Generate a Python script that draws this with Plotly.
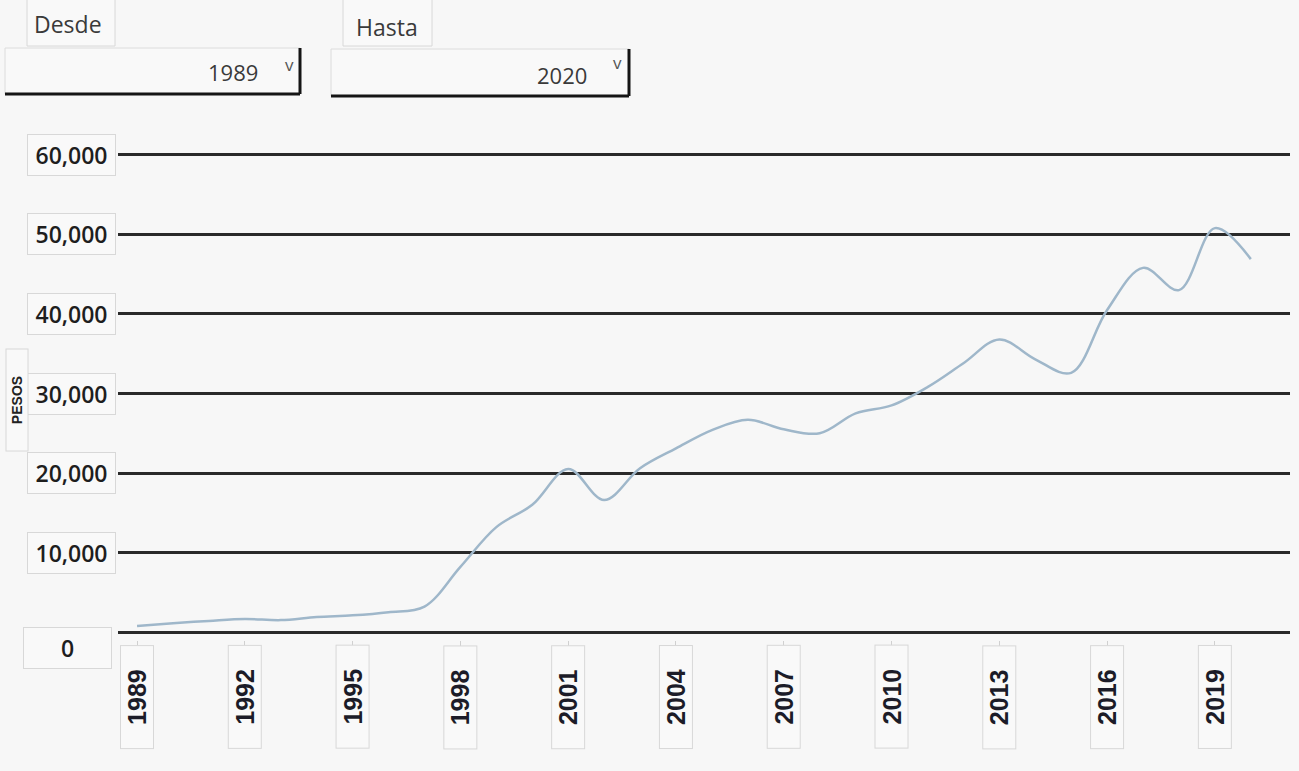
import plotly.graph_objects as go

# ---- data ----
years = list(range(1989, 2021))
pesos = [750, 1100, 1400, 1650, 1500, 1900, 2100, 2500, 3200, 8200,
         13200, 16000, 20500, 16600, 20600, 23100, 25400, 26700, 25500, 25000,
         27500, 28500, 30800, 33800, 36800, 34300, 32600, 40500, 45800, 43000,
         50800, 46900]
x_ticks = list(range(1989, 2020, 3))
y_ticks = [0, 10000, 20000, 30000, 40000, 50000, 60000]
y_labels = ["0", "10,000", "20,000", "30,000", "40,000", "50,000", "60,000"]
desde, hasta = "1989", "2020"
y_title = "PESOS"

W, H = 1299, 771
L, R, T, B = 118, 9, 147, 131
PW, PH = W - L - R, H - T - B

def fx(px):
    return (px - L) / PW

def fy(py):
    return (H - B - py) / PH

BG = "#f7f7f7"
BOXFILL = "#f9f9f9"
BOXLINE = "#d8d8d8"

fig = go.Figure()
fig.add_trace(go.Scatter(
    x=years, y=pesos, mode="lines",
    line=dict(color="#9fb7ca", width=2.5, shape="spline", smoothing=1.0),
    hoverinfo="x+y", showlegend=False))

annotations = []
# x tick labels in boxes
for yr in x_ticks:
    annotations.append(dict(
        x=yr, xref="x", y=0, yref="y", yanchor="top", xanchor="center",
        yshift=-13, text=str(yr), textangle=-90, showarrow=False,
        font=dict(family="Liberation Sans, Arial", size=25, color="#1c1c28", weight="bold"),
        width=98, height=28, borderpad=2, bordercolor=BOXLINE, borderwidth=1,
        bgcolor=BOXFILL))
# y tick labels in boxes
for v, lab in zip(y_ticks, y_labels):
    is_zero = v == 0
    annotations.append(dict(
        x=0, xref="paper", xanchor="right", xshift=-2 if not is_zero else -6,
        y=v, yref="y", yanchor="middle", yshift=-16 if is_zero else 0,
        text=lab, showarrow=False,
        font=dict(family="Open Sans, Noto Sans", size=23, color="#1e1e1e", weight=600),
        width=83, height=36, borderpad=2, bordercolor=BOXLINE, borderwidth=1,
        bgcolor=BOXFILL))
# y axis title
annotations.append(dict(
    x=fx(16.5), xref="paper", xanchor="center", y=fy(400), yref="paper",
    yanchor="middle", text=y_title, textangle=-90, showarrow=False,
    font=dict(family="Liberation Sans, Arial", size=14, color="#222", weight="bold"),
    width=97, height=17, borderpad=2, bordercolor=BOXLINE, borderwidth=1,
    bgcolor=BOXFILL))

shapes = []
# Desde / Hasta label boxes
for x0, x1 in [(27, 115), (343, 432)]:
    shapes.append(dict(type="rect", xref="paper", yref="paper",
                       x0=fx(x0), x1=fx(x1), y0=fy(46), y1=fy(-2),
                       line=dict(color=BOXLINE, width=1), fillcolor=BOXFILL, layer="below"))
# dropdowns
for x0, x1, ytop, ybot in [(5, 300, 48, 94), (331, 629, 49, 96)]:
    shapes.append(dict(type="rect", xref="paper", yref="paper",
                       x0=fx(x0), x1=fx(x1), y0=fy(ybot), y1=fy(ytop),
                       line=dict(color="#dcdcdc", width=1), fillcolor=BOXFILL, layer="below"))
    shapes.append(dict(type="line", xref="paper", yref="paper",
                       x0=fx(x0), x1=fx(x1), y0=fy(ybot), y1=fy(ybot),
                       line=dict(color="#151515", width=3)))
    shapes.append(dict(type="line", xref="paper", yref="paper",
                       x0=fx(x1), x1=fx(x1), y0=fy(ybot), y1=fy(ytop),
                       line=dict(color="#151515", width=3)))

ctrl_font = dict(family="Open Sans, Noto Sans", size=23, color="#3a3a3a")
for txt, cx, cy, f in [
    ("Desde", 68, 24, ctrl_font),
    ("Hasta", 387, 27, ctrl_font),
    (desde, 233, 72, dict(ctrl_font, size=22)),
    (hasta, 562, 75, dict(ctrl_font, size=22)),
    ("v", 289, 64, dict(ctrl_font, size=17, color="#555")),
    ("v", 617, 63, dict(ctrl_font, size=17, color="#555")),
]:
    annotations.append(dict(x=fx(cx), y=fy(cy), xref="paper", yref="paper",
                            xanchor="center", yanchor="middle", text=txt,
                            showarrow=False, font=f))

fig.update_layout(
    width=W, height=H,
    margin=dict(l=L, r=R, t=T, b=B, pad=0),
    paper_bgcolor=BG, plot_bgcolor=BG,
    xaxis=dict(range=[1988.47, 2021.09], showgrid=False, zeroline=False,
               tickvals=x_ticks, showticklabels=False, ticks="outside",
               ticklen=5, tickcolor="#d0d0d0", tickwidth=1, showline=False),
    yaxis=dict(range=[-1000, 61000], tickvals=y_ticks, showticklabels=False,
               showgrid=True, gridcolor="#2a2a2a", gridwidth=2.5,
               zeroline=False, showline=False, ticks=""),
    annotations=annotations, shapes=shapes,
    showlegend=False,
)

fig.write_html("out.html", config={"displayModeBar": False},
               post_script="document.body.style.margin='0';document.body.style.overflow='hidden';")
